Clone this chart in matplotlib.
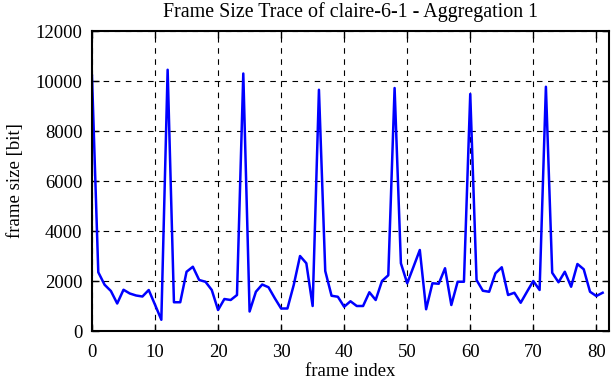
import matplotlib as mpl
import matplotlib.pyplot as plt

mpl.rcParams['font.family'] = 'Liberation Serif'
mpl.rcParams['font.size'] = 12

# frame sizes, one per frame index
frame_size = [10210, 2350, 1850, 1600, 1100, 1650, 1500, 1420, 1380, 1640,
              1050, 450, 10450, 1150, 1150, 2370, 2570, 2040, 1970, 1640,
              840, 1280, 1240, 1440, 10300, 780, 1570, 1860, 1750, 1310,
              900, 900, 1840, 3000, 2710, 1000, 9650, 2400, 1410, 1370,
              970, 1190, 1000, 1000, 1550, 1240, 2000, 2230, 9720, 2710,
              1910, 2570, 3240, 870, 1910, 1890, 2510, 1040, 1970, 1970,
              9480, 2040, 1610, 1570, 2310, 2550, 1440, 1530, 1130, 1570,
              2000, 1640, 9770, 2330, 1950, 2370, 1770, 2680, 2470, 1570,
              1400, 1530]
frame_index = list(range(len(frame_size)))

x_ticks = list(range(0, 81, 10))
y_ticks = list(range(0, 12001, 2000))

fig = plt.figure(figsize=(6.12, 3.82), dpi=100)
ax = plt.axes((0.1503, 0.1335, 0.8447, 0.7853))

ax.plot(frame_index, frame_size, color='#0000ff', linewidth=1.8)

ax.set_xlim(0, 82)
ax.set_ylim(0, 12000)
ax.set_xticks(x_ticks)
ax.set_yticks(y_ticks)
ax.grid(True, color='black', linestyle=(0, (5, 5)), linewidth=0.8)
ax.tick_params(direction='in', top=True, right=True, length=5, width=1,
               labelsize=13.5)
ax.tick_params(axis='x', pad=9)
ax.tick_params(axis='y', pad=7)
for s in ax.spines.values():
    s.set_linewidth(1.5)

ax.set_title('Frame Size Trace of claire-6-1 - Aggregation 1', pad=10)
ax.set_xlabel('frame index', fontsize=13.5, labelpad=2)
ax.set_ylabel('frame size [bit]', fontsize=13.5, labelpad=8)

plt.savefig('out.png', dpi=100)
